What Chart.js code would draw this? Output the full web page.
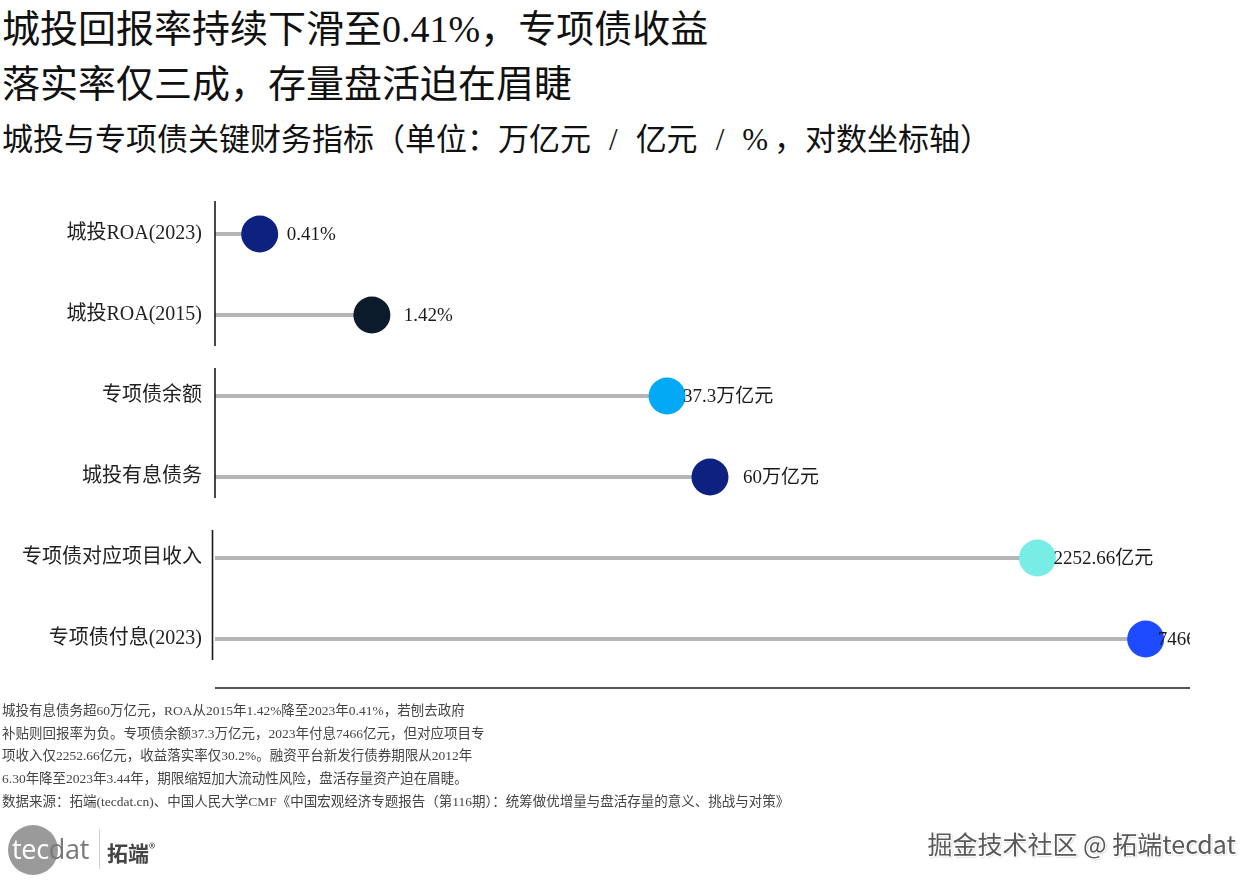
<!DOCTYPE html>
<html>
<head>
<meta charset="utf-8">
<script src="https://cdn.jsdelivr.net/npm/chart.js@4.4.1/dist/chart.umd.min.js"></script>
<style>
  html, body { margin: 0; padding: 0; background: #fff; }
  body { width: 1260px; height: 882px; position: relative; overflow: hidden;
         font-family: "Liberation Serif", "Noto Sans CJK SC", serif; color: #111; }
  #chart-wrap { position: absolute; left: 0; top: 0; width: 1260px; height: 882px; }
  .title { position: absolute; left: 2px; font-size: 38px; line-height: 55px; white-space: nowrap; }
  .subtitle { position: absolute; left: 2px; top: 120px; font-size: 31px; line-height: 40px; white-space: nowrap; }
  .subtitle .sl { margin: 0 18px; }
  .subtitle .pc { margin-right: 6px; }
  .notes { position: absolute; left: 2px; top: 700px; font-size: 13.5px; line-height: 22.7px; color: #444; white-space: nowrap; }
  .logo { position: absolute; left: 8px; top: 825px; height: 50px; width: 170px; }
  .logo .circle { position: absolute; left: 0; top: 0; width: 50px; height: 50px; border-radius: 50%; background: #9a9a9a; }
  .logo .word { position: absolute; left: 4px; top: 6px; font-family: "Open Sans", sans-serif; font-size: 27px; line-height: 36px; letter-spacing: -0.3px; }
  .logo .tec { color: #fff; }
  .logo .dat { color: #777; }
  .logo .sep { position: absolute; left: 91px; top: 4px; width: 1px; height: 40px; background: #d0d0d0; }
  .logo .cn { position: absolute; left: 99px; top: 8px; font-family: "Noto Sans CJK SC", sans-serif; font-weight: 700; font-size: 21px; line-height: 30px; color: #444; }
  .logo .cn sup { font-size: 13px; font-weight: 400; }
  .mark { position: absolute; right: 24px; top: 826px; font-family: "Noto Sans CJK SC", sans-serif; font-size: 25px; line-height: 34px; color: #5a5a5a;
          text-shadow: 1px 1px 0 #fff, -1px -1px 0 #fff, 1px -1px 0 #fff, -1px 1px 0 #fff, 1px 1px 2px #999; white-space: nowrap; }
</style>
</head>
<body>
<div class="title" style="top:2px">城投回报率持续下滑至0.41%，专项债收益</div>
<div class="title" style="top:57px">落实率仅三成，存量盘活迫在眉睫</div>
<div class="subtitle">城投与专项债关键财务指标（单位：万亿元<span class="sl">/</span>亿元<span class="sl">/</span><span class="pc">%</span>，对数坐标轴）</div>

<div id="chart-wrap"><canvas id="container"></canvas></div>

<div class="notes">
城投有息债务超60万亿元，ROA从2015年1.42%降至2023年0.41%，若刨去政府<br>
补贴则回报率为负。专项债余额37.3万亿元，2023年付息7466亿元，但对应项目专<br>
项收入仅2252.66亿元，收益落实率仅30.2%。融资平台新发行债券期限从2012年<br>
6.30年降至2023年3.44年，期限缩短加大流动性风险，盘活存量资产迫在眉睫。<br>
数据来源：拓端(tecdat.cn)、中国人民大学CMF《中国宏观经济专题报告（第116期）：统筹做优增量与盘活存量的意义、挑战与对策》
</div>

<div class="logo">
  <div class="circle"></div>
  <div class="word"><span class="tec">tec</span><span class="dat">dat</span></div>
  <div class="sep"></div>
  <div class="cn">拓端<sup>®</sup></div>
</div>
<div class="mark">掘金技术社区 @ 拓端tecdat</div>

<script>
// categories, top to bottom
const categories = ['城投ROA(2023)', '城投ROA(2015)', '专项债余额', '城投有息债务', '专项债对应项目收入', '专项债付息(2023)'];
// values: %, %, 万亿元, 万亿元, 亿元, 亿元
const values = [0.41, 1.42, 37.3, 60, 2252.66, 7466];
const valueLabels = ['0.41%', '1.42%', '37.3万亿元', '60万亿元', '2252.66亿元', '7466亿元'];
// pairs of categories that share an axis segment
const groups = [[0, 1], [2, 3], [4, 5]];

// styling
const dotColors = ['#0c2180', '#0b1b2c', '#03a9f4', '#0c2180', '#78ede6', '#1f4bff'];
const labelOffsets = [27, 32, 16, 33, 16, 12];
const serif = '"Liberation Serif", "Noto Sans CJK SC", serif';

// axis segments, bottom rule and value labels
const decorPlugin = {
    id: 'decor',
    afterDatasetsDraw(chart) {
        const { ctx, chartArea, scales } = chart;
        const y = scales.y;
        const dots = chart.getDatasetMeta(1).data;

        // value labels, clipped at the plot edge
        ctx.save();
        ctx.beginPath();
        ctx.rect(chartArea.left, 0, chartArea.right - chartArea.left, chart.height);
        ctx.clip();
        ctx.font = '19px ' + serif;
        ctx.fillStyle = '#1a1a1a';
        ctx.textBaseline = 'middle';
        ctx.textAlign = 'left';
        dots.forEach((pt, i) => {
            ctx.fillText(valueLabels[i], pt.x + labelOffsets[i], pt.y + 1);
        });
        ctx.restore();

        // broken left axis, one piece per group
        ctx.save();
        ctx.strokeStyle = '#1a1a1a';
        ctx.lineWidth = 1.6;
        groups.forEach((g, gi) => {
            const top = y.getPixelForValue(g[0]) - (gi === 0 ? 33 : 28);
            const bottom = y.getPixelForValue(g[g.length - 1]) + (gi === 0 ? 31 : 21);
            const x = chartArea.left - (gi === 2 ? 2.5 : 0);
            ctx.beginPath();
            ctx.moveTo(x, top);
            ctx.lineTo(x, bottom);
            ctx.stroke();
        });

        // bottom rule
        ctx.beginPath();
        ctx.moveTo(chartArea.left, chartArea.bottom + 8.5);
        ctx.lineTo(chartArea.right, chartArea.bottom + 8.5);
        ctx.stroke();
        ctx.restore();
    }
};

function createChart() {
    const ctx = document.getElementById('container').getContext('2d');

    new Chart(ctx, {
        type: 'bar',
        data: {
            labels: categories,
            datasets: [{
                // stems
                type: 'bar',
                data: values,
                backgroundColor: '#b5b5b5',
                barThickness: 3.5,
                order: 2
            }, {
                // dots
                type: 'line',
                data: values,
                showLine: false,
                pointRadius: 18.5,
                pointHoverRadius: 18.5,
                pointBackgroundColor: dotColors,
                pointBorderWidth: 0,
                order: 1
            }]
        },
        options: {
            indexAxis: 'y',
            responsive: true,
            maintainAspectRatio: false,
            animation: false,
            layout: { padding: { top: 193.5, bottom: 202.5, left: 0, right: 70 } },
            plugins: {
                legend: { display: false },
                tooltip: { enabled: false }
            },
            scales: {
                x: {
                    type: 'logarithmic',
                    min: 0.25,
                    max: 12200,
                    display: false
                },
                y: {
                    type: 'category',
                    offset: true,
                    grid: { display: false },
                    border: { display: false },
                    ticks: {
                        color: '#222',
                        padding: 5,
                        font: { family: serif, size: 20 }
                    },
                    afterFit(scale) { scale.width = 215; }
                }
            }
        },
        plugins: [decorPlugin]
    });
}

window.onload = createChart;
</script>
</body>
</html>
